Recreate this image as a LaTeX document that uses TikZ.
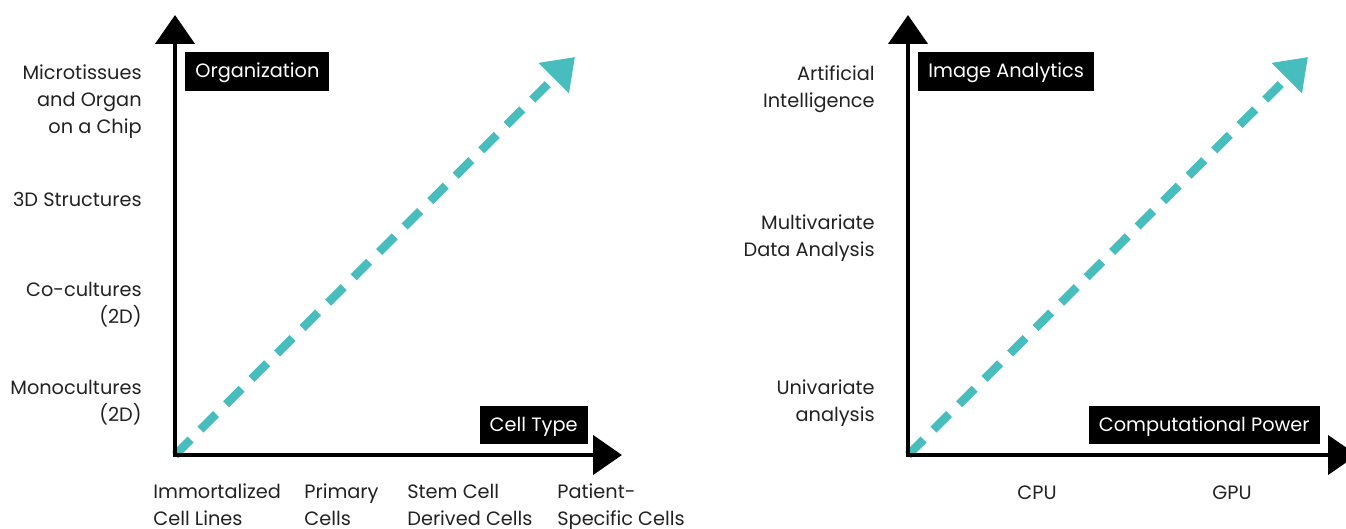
\documentclass[tikz,border=0pt]{standalone}
\usepackage{fontspec}
\setmainfont{Poppins}
\usetikzlibrary{arrows.meta}
\definecolor{trendteal}{HTML}{48BDBE}
\definecolor{labelgray}{HTML}{222222}

\begin{document}
\begin{tikzpicture}[x=0.02cm,y=-0.02cm,
    axis/.style={line width=0.09cm,line cap=rect,-{Triangle[width=0.78cm,length=0.58cm]}},
    trend/.style={trendteal,line width=0.17cm,dash pattern=on 0.44cm off 0.28cm,
                  -{Triangle[width=0.82cm,length=0.6cm]}},
    tag/.style={fill=black,text=white,inner xsep=0.2cm,inner ysep=0pt,minimum height=0.77cm,
                text height=0.75em,text depth=0.05em,font=\fontsize{11}{13}\selectfont},
    lab/.style={text=labelgray,inner sep=0pt,font=\fontsize{11}{15.3}\selectfont}]
  \useasboundingbox (0,0) rectangle (1346,528);
  \coordinate (O1) at (175,455);
  \coordinate (Y1) at (175,15);
  \coordinate (X1) at (622,455);
  \coordinate (T1) at (575,57);
  \coordinate (O2) at (908,455);
  \coordinate (Y2) at (908,15);
  \coordinate (X2) at (1357,455);
  \coordinate (T2) at (1308,57);
  \draw [trend] (O1) -- (T1);
  \draw [trend] (O2) -- (T2);
  \draw [axis] (O1) -- (Y1);
  \draw [axis] (O1) -- (X1);
  \draw [axis] (O2) -- (Y2);
  \draw [axis] (O2) -- (X2);
  \node [tag,anchor=west] (Org) at (185,71.5) {Organization};
  \node [tag,anchor=east] (Cell) at (588,425) {Cell Type};
  \node [tag,anchor=west] (Img) at (918,71.5) {Image Analytics};
  \node [tag,anchor=east] (Comp) at (1320,425) {Computational Power};
  \node [lab,anchor=base east,align=right] (Micro) at (142,133) {Microtissues\\and Organ\\on a Chip};
  \node [lab,anchor=base east,align=right] (ThreeD) at (142,206) {3D Structures};
  \node [lab,anchor=base east,align=right] (Co) at (142,323) {Co-cultures\\(2D)};
  \node [lab,anchor=base east,align=right] (Mono) at (142,421) {Monocultures\\(2D)};
  \node [lab,anchor=base west,align=left] (Immo) at (153,525) {Immortalized\\Cell Lines};
  \node [lab,anchor=base west,align=left] (Prim) at (304,525) {Primary\\Cells};
  \node [lab,anchor=base west,align=left] (Stem) at (407,525) {Stem Cell\\Derived Cells};
  \node [lab,anchor=base west,align=left] (Pat) at (557,525) {Patient-\\Specific Cells};
  \node [lab,anchor=base east,align=right] (AI) at (875,107) {Artificial\\Intelligence};
  \node [lab,anchor=base east,align=right] (Multi) at (875,256) {Multivariate\\Data Analysis};
  \node [lab,anchor=base east,align=right] (Uni) at (875,421) {Univariate\\analysis};
  \node [lab,anchor=base] (CPU) at (1037,499) {CPU};
  \node [lab,anchor=base] (GPU) at (1232,499) {GPU};
\end{tikzpicture}
\end{document}
